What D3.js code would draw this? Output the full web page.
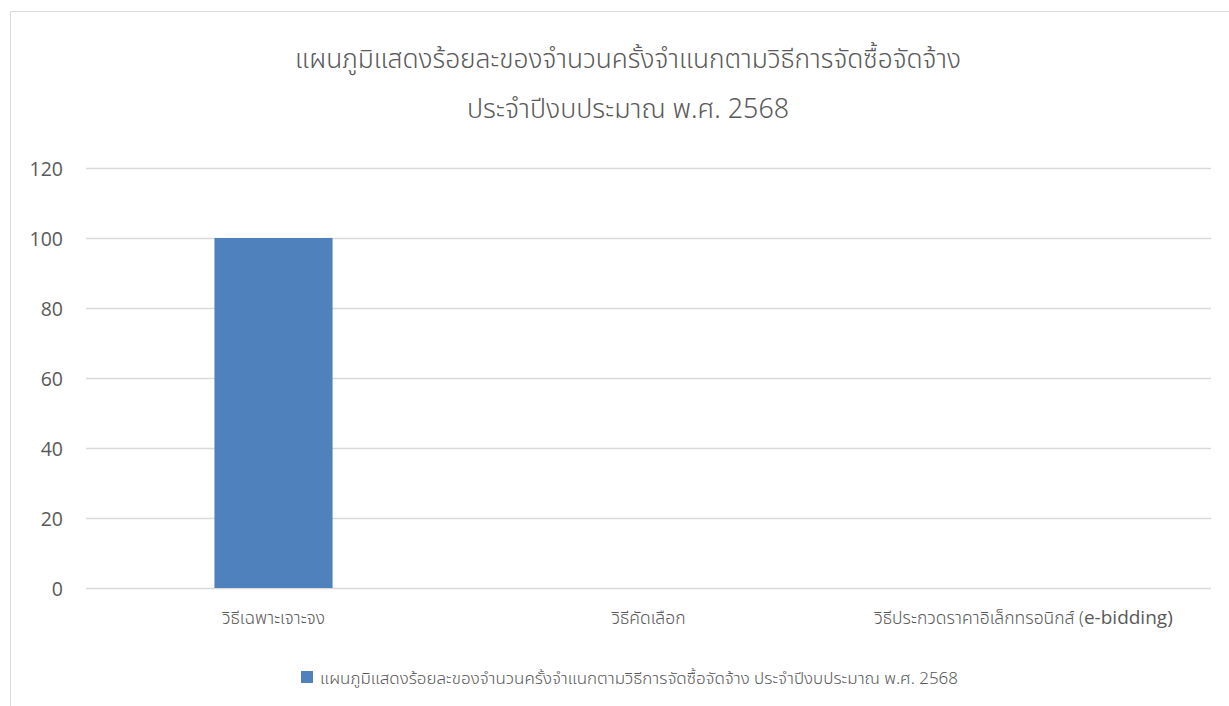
<!DOCTYPE html>
<html><head><meta charset="utf-8">
<script src="https://cdn.jsdelivr.net/npm/d3@7"></script>
<style>body{margin:0;background:#fff;} svg{display:block;}</style>
</head><body>
<script>
const titleLines = ["แผนภูมิแสดงร้อยละของจำนวนครั้งจำแนกตามวิธีการจัดซื้อจัดจ้าง", "ประจำปีงบประมาณ พ.ศ. 2568"];
const categoriesThai = ["วิธีเฉพาะเจาะจง", "วิธีคัดเลือก", "วิธีประกวดราคาอิเล็กทรอนิกส์ ("];
const categoriesLatin = ["", "", "e-bidding)"];
const categories = ["วิธีเฉพาะเจาะจง", "วิธีคัดเลือก", "วิธีประกวดราคาอิเล็กทรอนิกส์ (e-bidding)"];
const values = [100, 0, 0];
const yTicks = [0, 20, 40, 60, 80, 100, 120];
const seriesName = "แผนภูมิแสดงร้อยละของจำนวนครั้งจำแนกตามวิธีการจัดซื้อจัดจ้าง ประจำปีงบประมาณ พ.ศ. 2568";

const W = 1229, H = 706;
const svg = d3.select("body").append("svg").attr("width", W).attr("height", H);
svg.append("rect").attr("width", W).attr("height", H).attr("fill", "#fff");
// chart border
svg.append("path").attr("d", `M10.5,${H} L10.5,11.5 L${W},11.5`).attr("fill","none").attr("stroke","#d9d9d9").attr("stroke-width",1);

const plotL = 86, plotR = 1211, plotT = 168, plotB = 588;
const x = d3.scaleBand().domain(categories).range([plotL, plotR]).paddingInner(0.685).paddingOuter(0.3425);
const y = d3.scaleLinear().domain([0, 120]).range([plotB, plotT]);

// gridlines
svg.append("g").selectAll("line").data(yTicks).join("line")
  .attr("x1", plotL).attr("x2", plotR)
  .attr("y1", d => Math.round(y(d)) + 0.5).attr("y2", d => Math.round(y(d)) + 0.5)
  .attr("stroke", "#d9d9d9").attr("stroke-width", 1.5);

// y axis labels
const yAxis = d3.axisLeft(y).tickValues(yTicks).tickSize(0).tickPadding(0);
const gy = svg.append("g").attr("transform", `translate(63,0)`).call(yAxis);
gy.select(".domain").remove();
gy.selectAll("text").attr("fill", "#595959").attr("font-family", "'Open Sans', Carlito, sans-serif").attr("font-size", 19.5).attr("dy", "0.36em");

// bars
svg.append("g").selectAll("rect").data(values).join("rect")
  .attr("x", (d, i) => x(categories[i])).attr("width", x.bandwidth())
  .attr("y", d => y(d)).attr("height", d => y(0) - y(d))
  .attr("fill", "#4f81bd");

// x labels
const gx = svg.append("g");
categories.forEach((c, i) => {
  const t = gx.append("text").attr("x", x(c) + x.bandwidth() / 2).attr("y", 624)
    .attr("text-anchor", "middle").attr("fill", "#595959");
  t.append("tspan").attr("font-family", "'Noto Sans Thai', 'Noto Sans', sans-serif").attr("font-size", 17.5).attr("font-weight", 300).text(categoriesThai[i]);
  if (categoriesLatin[i]) t.append("tspan").attr("font-family", "'Open Sans', sans-serif").attr("font-size", 19).text(categoriesLatin[i]);
});

// title
const title = svg.append("text").attr("text-anchor", "middle").attr("fill", "#595959")
  .attr("font-family", "'Noto Sans Thai', 'Noto Sans', sans-serif").attr("font-weight", 300);
titleLines.forEach((l, i) => title.append("tspan").attr("x", 628).attr("y", 68 + i * 50)
  .attr("font-size", i === 0 ? 26.3 : 26.8).text(l));

// legend
svg.append("rect").attr("x", 301).attr("y", 671).attr("width", 12).attr("height", 12).attr("fill", "#4f81bd");
svg.append("text").attr("x", 320).attr("y", 684).attr("fill", "#595959")
  .attr("textLength", 638).attr("lengthAdjust", "spacingAndGlyphs")
  .attr("font-family", "'Noto Sans Thai', 'Noto Sans', sans-serif").attr("font-size", 16).attr("font-weight", 300).text(seriesName);
</script>
</body></html>
